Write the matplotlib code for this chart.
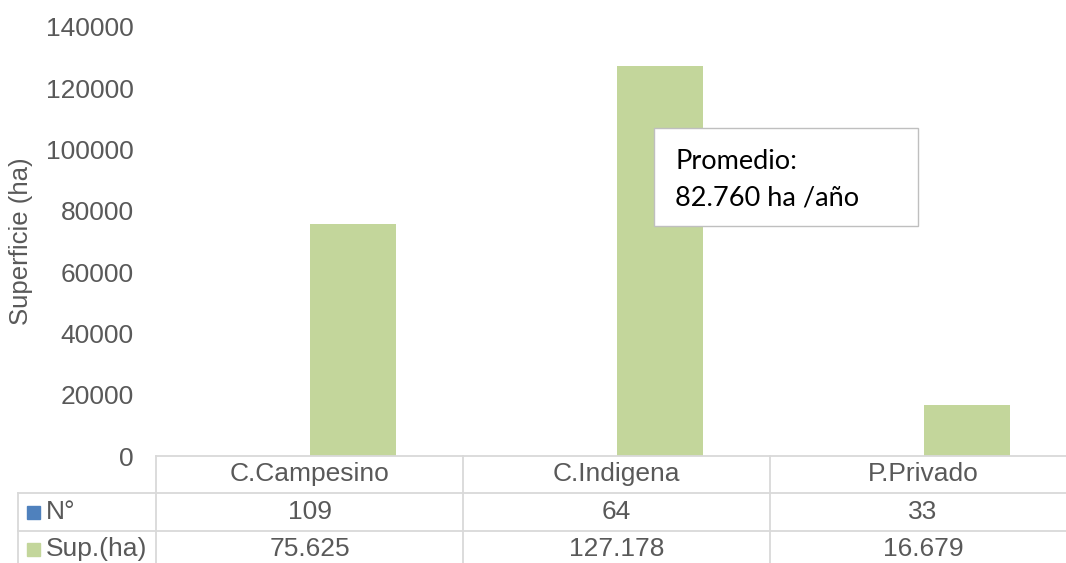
import matplotlib.pyplot as plt
from matplotlib.lines import Line2D
from matplotlib.patches import Rectangle
import numpy as np

categorias = ["C.Campesino", "C.Indigena", "P.Privado"]
n_predios = [109, 64, 33]
superficie = [75625, 127178, 16679]
etiq_n = ["109", "64", "33"]
etiq_sup = ["75.625", "127.178", "16.679"]
yticks = [0, 20000, 40000, 60000, 80000, 100000, 120000, 140000]

azul = "#4F81BD"
verde = "#C3D69B"
gris = "#595959"
linea = "#D9D9D9"

plt.rcParams['font.family'] = ['Liberation Sans', 'DejaVu Sans']

W, H = 1066, 563
AW = 921  # el área de trazado sigue más allá del borde derecho
fig = plt.figure(figsize=(W / 100, H / 100), dpi=100)
ax = fig.add_axes([156 / W, 1 - 456 / H, AW / W, (456 - 27) / H])

x = np.arange(len(categorias))
ancho = 0.283
ax.bar(x - ancho / 2, n_predios, ancho, color=azul)
ax.bar(x + ancho / 2, superficie, ancho, color=verde)

ax.set_xlim(-0.5, 2.5)
ax.set_ylim(0, 140000)
ax.set_yticks(yticks)
ax.set_yticklabels([str(v) for v in yticks], fontsize=19, color=gris)
ax.tick_params(axis='y', length=0, pad=16)
ax.set_xticks([])
for s in ax.spines.values():
    s.set_visible(False)
ax.set_ylabel("Superficie (ha)", fontsize=18.5, color=gris)
ax.yaxis.set_label_coords(-123 / AW, 0.5)


def fx(px):
    return px / W


def fy(py):
    return 1 - py / H


# tabla de datos
def hline(x0, x1, y):
    fig.add_artist(Line2D([fx(x0), fx(x1)], [fy(y), fy(y)], color=linea, lw=1.3))


def vline(xx, y0, y1):
    fig.add_artist(Line2D([fx(xx), fx(xx)], [fy(y0), fy(y1)], color=linea, lw=1.3))


hline(156, W, 456)
hline(18, W, 493)
hline(18, W, 531)
vline(18, 493, H)
for xx in [156, 463, 770]:
    vline(xx, 456, H)

centros = [309.5, 616.5, 923]
for c, cat, a, b in zip(centros, categorias, etiq_n, etiq_sup):
    fig.text(fx(c), fy(474), cat, ha='center', va='center', fontsize=19, color=gris)
    fig.text(fx(c), fy(512), a, ha='center', va='center', fontsize=19, color=gris)
    fig.text(fx(c), fy(549), b, ha='center', va='center', fontsize=19, color=gris)

fig.add_artist(Rectangle((fx(27), fy(519)), fx(13), 13 / H, color=azul))
fig.add_artist(Rectangle((fx(27), fy(556)), fx(13), 13 / H, color=verde))
fig.text(fx(46), fy(512), "N°", ha='left', va='center', fontsize=19, color=gris)
fig.text(fx(46), fy(549), "Sup.(ha)", ha='left', va='center', fontsize=19, color=gris)

# cuadro de texto
fig.add_artist(Rectangle((fx(654), fy(226)), fx(918 - 654), (226 - 128) / H,
                         facecolor='white', edgecolor='#BFBFBF', lw=1))
fig.text(fx(675), fy(161), "Promedio:", ha='left', va='center', fontsize=19.5,
         color='black', family=['Lato', 'DejaVu Sans'])
fig.text(fx(675), fy(198), "82.760 ha /año", ha='left', va='center', fontsize=19.5,
         color='black', family=['Lato', 'DejaVu Sans'])

fig.savefig("out.png", dpi=100)
